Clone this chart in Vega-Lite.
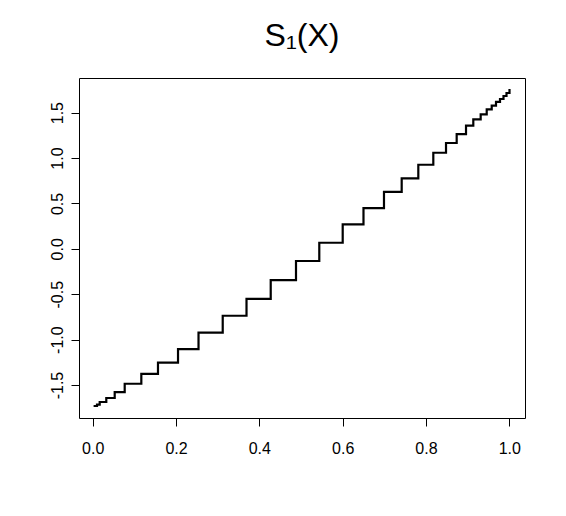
{
  "$schema": "https://vega.github.io/schema/vega-lite/v6.json",
  "width": 446,
  "height": 340,
  "autosize": {"type": "none"},
  "padding": {"left": 79, "top": 78, "right": 41, "bottom": 98},
  "background": "white",
  "title": {
    "text": "S₁(X)",
    "font": "Liberation Sans",
    "fontSize": 32,
    "fontWeight": "normal",
    "color": "black",
    "anchor": "middle",
    "baseline": "alphabetic",
    "offset": 0
  },
  "config": {
    "view": {"stroke": "black", "strokeWidth": 1},
    "axis": {
      "grid": false,
      "domain": false,
      "ticks": true,
      "tickColor": "black",
      "tickSize": 8,
      "tickWidth": 1,
      "labelFont": "Liberation Sans",
      "labelFontSize": 16,
      "labelColor": "black",
      "title": null
    }
  },
  "data": {
    "values": [
      {"x": 0.0048, "y": -1.731},
      {"x": 0.0103, "y": -1.715},
      {"x": 0.0168, "y": -1.687},
      {"x": 0.0326, "y": -1.643},
      {"x": 0.0528, "y": -1.577},
      {"x": 0.0768, "y": -1.486},
      {"x": 0.1167, "y": -1.376},
      {"x": 0.1567, "y": -1.254},
      {"x": 0.2048, "y": -1.104},
      {"x": 0.2540, "y": -0.922},
      {"x": 0.3121, "y": -0.737},
      {"x": 0.3692, "y": -0.551},
      {"x": 0.4273, "y": -0.344},
      {"x": 0.4880, "y": -0.134},
      {"x": 0.5439, "y": 0.067},
      {"x": 0.6001, "y": 0.270},
      {"x": 0.6500, "y": 0.449},
      {"x": 0.6992, "y": 0.626},
      {"x": 0.7417, "y": 0.776},
      {"x": 0.7816, "y": 0.926},
      {"x": 0.8176, "y": 1.058},
      {"x": 0.8481, "y": 1.165},
      {"x": 0.8737, "y": 1.264},
      {"x": 0.8961, "y": 1.356},
      {"x": 0.9136, "y": 1.426},
      {"x": 0.9313, "y": 1.481},
      {"x": 0.9458, "y": 1.536},
      {"x": 0.9578, "y": 1.576},
      {"x": 0.9681, "y": 1.617},
      {"x": 0.9777, "y": 1.650},
      {"x": 0.9861, "y": 1.683},
      {"x": 0.9933, "y": 1.716},
      {"x": 1.0005, "y": 1.749}
    ]
  },
  "mark": {"type": "line", "interpolate": "step-after", "color": "black", "strokeWidth": 2.2, "strokeCap": "square"},
  "encoding": {
    "x": {
      "field": "x",
      "type": "quantitative",
      "scale": {"domain": [-0.0329, 1.0377], "nice": false, "zero": false},
      "axis": {"values": [0, 0.2, 0.4, 0.6, 0.8, 1.0], "format": ".1f", "labelPadding": 14, "labelAlign": "center", "labelBaseline": "top"}
    },
    "y": {
      "field": "y",
      "type": "quantitative",
      "scale": {"domain": [-1.863, 1.881], "nice": false, "zero": false},
      "axis": {"values": [-1.5, -1.0, -0.5, 0, 0.5, 1.0, 1.5], "labelExpr": "replace(format(datum.value, '.1f'), '\u2212', '-')", "labelAngle": -90, "labelAlign": "center", "labelBaseline": "alphabetic", "labelPadding": 9}
    }
  }
}
